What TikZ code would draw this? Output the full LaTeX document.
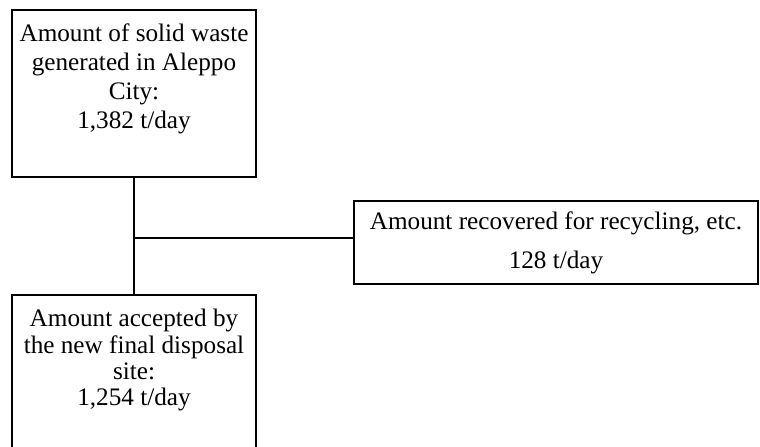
\documentclass[tikz,border=0pt]{standalone}
\usepackage{fontspec}
\setmainfont{Liberation Serif}
\usepackage{tikz}
\usetikzlibrary{positioning}

\begin{document}
\begin{tikzpicture}[
    x=0.5pt, y=-0.5pt,
    box/.style={rectangle, draw, line width=0.9pt, inner sep=0pt},
    boxtext/.style={align=center, anchor=north, inner sep=0pt, font=\fontsize{12.6}{14.6}\selectfont},
    link/.style={line width=1.3pt}]
    \useasboundingbox (0,0) rectangle (760,446);
    \node[box, minimum width=122pt, minimum height=83.5pt] (waste) at (134,93.5) {};
    \node[box, minimum width=122pt, minimum height=78.5pt] (accepted) at (134,373.5) {};
    \node[box, minimum width=202pt, minimum height=41.5pt, align=center,
          font=\fontsize{12.6}{19.5}\selectfont] (recovered) at (556,242.5)
          {Amount recovered for recycling, etc.\\128 t/day};
    \node[boxtext, below=7pt of waste.north] (wastetext)
          {Amount of solid waste\\generated in Aleppo\\City:\\1,382 t/day};
    \node[boxtext, font=\fontsize{12.6}{13.1}\selectfont, below=7.5pt of accepted.north] (acceptedtext)
          {Amount accepted by\\the new final disposal\\site:\\1,254 t/day};
    \coordinate (split) at (134,238);
    \draw[link] (waste) -- (accepted);
    \draw[link] (split) -- (split -| recovered.west);
\end{tikzpicture}
\end{document}
